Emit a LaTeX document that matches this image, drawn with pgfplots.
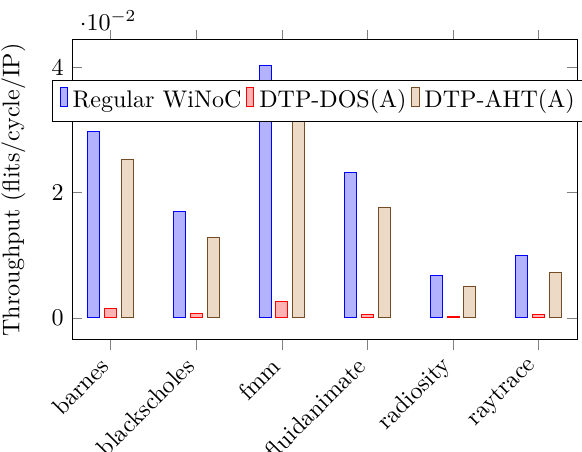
\documentclass[border=0pt]{standalone}
\usepackage{pgfplots}
\pgfplotsset{compat=1.18}
\begin{document}
\begin{tikzpicture}
\begin{axis}[
  name=ax,
  scale only axis,
  width=210pt, height=124.7pt,
  ybar, bar width=5pt,
  xmin=-0.45, xmax=5.45,
  ymin=-0.0035, ymax=0.0444,
  xtick=data,
  xticklabels={barnes,blackscholes,fmm,fluidanimate,radiosity,raytrace},
  xticklabel style={rotate=45, anchor=east},
  xticklabel shift=2.5pt,
  ytick={0,0.02,0.04},
  ylabel={Throughput (flits/cycle/IP)},
  ylabel style={yshift=4pt},
  legend columns=-1,
  legend image code/.code={\draw[#1,/tikz/.cd,yshift=-0.25em] (0cm,0cm) rectangle (3pt,0.8em);},
  legend style={at={(0.49,0.867)}, anchor=north, draw=black},
]
\addplot coordinates {(0,0.0298) (1,0.0170) (2,0.0403) (3,0.0233) (4,0.0068) (5,0.0099)};
\addplot coordinates {(0,0.0015) (1,0.00064) (2,0.00255) (3,0.00048) (4,0.00016) (5,0.00048)};
\addplot coordinates {(0,0.0253) (1,0.0128) (2,0.0340) (3,0.0177) (4,0.0051) (5,0.0073)};
\legend{Regular WiNoC, DTP-DOS(A), DTP-AHT(A)}
\end{axis}
\pgfresetboundingbox
\path[use as bounding box] ([shift={(-30pt,-46.6pt)}]ax.south west) rectangle ([shift={(2pt,16.6pt)}]ax.north east);
\end{tikzpicture}
\end{document}
